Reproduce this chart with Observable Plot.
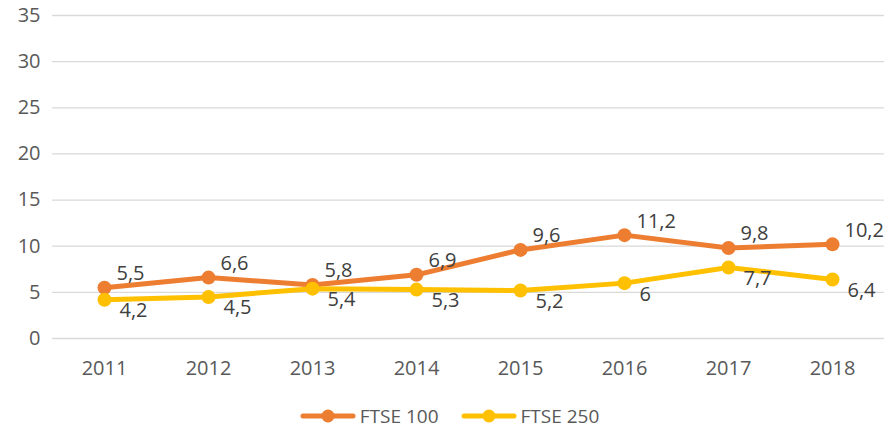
<!DOCTYPE html>
<html><head><meta charset="utf-8">
<script src="https://cdn.jsdelivr.net/npm/d3@7"></script>
<script src="https://cdn.jsdelivr.net/npm/@observablehq/plot@0.6"></script>
<style>
body{margin:0;background:#fff;font-family:"Open Sans",sans-serif;}
#legend{display:flex;justify-content:center;align-items:center;gap:22px;height:52px;font-size:19px;color:#595959;margin-left:12px;margin-top:10px}
.item{display:flex;align-items:center;gap:4px}
</style>
</head><body>
<div id="chart"></div>
<div id="legend"></div>
<script>
const years = ["2011","2012","2013","2014","2015","2016","2017","2018"];
const ftse100 = [5.5,6.6,5.8,6.9,9.6,11.2,9.8,10.2];
const ftse250 = [4.2,4.5,5.4,5.3,5.2,6,7.7,6.4];
const yTicks = [0,5,10,15,20,25,30,35];
const seriesNames = ["FTSE 100","FTSE 250"];
const colors = ["#ED7D31","#FFC000"];

const d100 = years.map((y,i)=>({year:y,value:ftse100[i]}));
const d250 = years.map((y,i)=>({year:y,value:ftse250[i]}));
const fmt = v => String(v).replace(".",",");

const plot = Plot.plot({
  width: 887, height: 380,
  marginLeft: 52, marginRight: 3, marginTop: 15, marginBottom: 42,
  style: {fontFamily: "Open Sans, sans-serif", fontSize: "20px", color: "#595959", background: "#fff"},
  x: {type: "point", domain: years, padding: 0.5, label: null},
  y: {domain: [0,35], ticks: yTicks, label: null},
  marks: [
    Plot.ruleY(yTicks, {stroke: "#d9d9d9", strokeWidth: 1.3}),
    Plot.axisY({ticks: yTicks, tickSize: 0, tickPadding: 12, fontSize: 20, fill: "#595959"}),
    Plot.axisX({tickSize: 0, tickPadding: 22, fontSize: 20, fill: "#595959"}),
    Plot.line(d100, {x:"year", y:"value", stroke: colors[0], strokeWidth: 5}),
    Plot.line(d250, {x:"year", y:"value", stroke: colors[1], strokeWidth: 5}),
    Plot.dot(d100, {x:"year", y:"value", fill: colors[0], r: 7}),
    Plot.dot(d250, {x:"year", y:"value", fill: colors[1], r: 7}),
    Plot.text(d100, {x:"year", y:"value", text: d=>fmt(d.value), dx: 12, dy: -14, textAnchor: "start", fontSize: 20, fill: "#404040"}),
    Plot.text(d250, {x:"year", y:"value", text: d=>fmt(d.value), dx: 15, dy: 11, textAnchor: "start", fontSize: 20, fill: "#404040"})
  ]
});
document.getElementById("chart").appendChild(plot);

const leg = document.getElementById("legend");
seriesNames.forEach((n,i)=>{
  const it = document.createElement("div"); it.className="item";
  it.innerHTML = `<svg width="56" height="16"><line x1="3" y1="8" x2="53" y2="8" stroke="${colors[i]}" stroke-width="5" stroke-linecap="round"/><circle cx="28" cy="8" r="6.5" fill="${colors[i]}"/></svg><span>${n}</span>`;
  leg.appendChild(it);
});
</script>
</body></html>
